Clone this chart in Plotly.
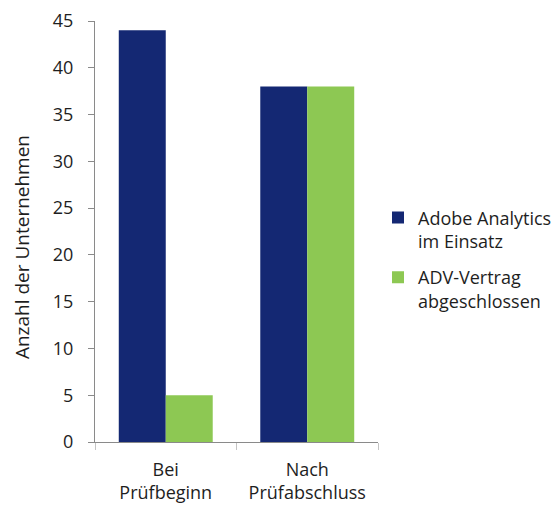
import plotly.graph_objects as go

categories = ["Bei<br>Prüfbeginn", "Nach<br>Prüfabschluss"]
series_names = ["Adobe Analytics<br>im Einsatz", "ADV-Vertrag<br>abgeschlossen"]
adobe_values = [44, 38]
adv_values = [5, 38]
y_ticks = [0, 5, 10, 15, 20, 25, 30, 35, 40, 45]
y_title = "Anzahl der Unternehmen"

BLUE = "#142873"
GREEN = "#8DC853"
FONT = "Open Sans"
TXT = "#1e1e1e"

fig = go.Figure()
fig.add_trace(go.Bar(x=categories, y=adobe_values, name=series_names[0],
                     marker=dict(color=BLUE, line=dict(width=0)),
                     legendgroup="a"))
fig.add_trace(go.Bar(x=categories, y=adv_values, name=series_names[1],
                     marker=dict(color=GREEN, line=dict(width=0)),
                     legendgroup="b"))

fig.add_annotation(text=y_title, textangle=-90, xref="paper", yref="paper",
                   x=-73 / 283, y=0.463, xanchor="center", yanchor="middle",
                   showarrow=False, font=dict(family=FONT, size=19, color=TXT))

fig.update_layout(
    width=560, height=507,
    margin=dict(l=87, r=190, t=13, b=73, autoexpand=False),
    paper_bgcolor="white", plot_bgcolor="white",
    font=dict(family=FONT, size=18, color=TXT),
    barmode="group", bargap=0.336, bargroupgap=0,
    showlegend=True,
    legend=dict(x=1.0, y=0.434, xanchor="left", yanchor="middle",
                valign="top", tracegroupgap=10,
                font=dict(family=FONT, size=18, color=TXT),
                bgcolor="rgba(0,0,0,0)"),
    xaxis=dict(showline=True, linecolor="#8a8a8a", linewidth=1,
               ticks="outside", tickson="boundaries", ticklen=7,
               tickcolor="#c4c4c4", showgrid=False, automargin=False,
               ticklabelstandoff=11,
               tickfont=dict(family=FONT, size=18, color=TXT)),
    yaxis=dict(range=[0, 45], tickvals=y_ticks, showline=True,
               linecolor="#8a8a8a", linewidth=1, ticks="outside",
               ticklen=6, tickcolor="#8a8a8a", showgrid=False,
               zeroline=False, automargin=False, ticklabelstandoff=11,
               tickfont=dict(family=FONT, size=18, color=TXT)),
)

fig.write_html("out.html")
